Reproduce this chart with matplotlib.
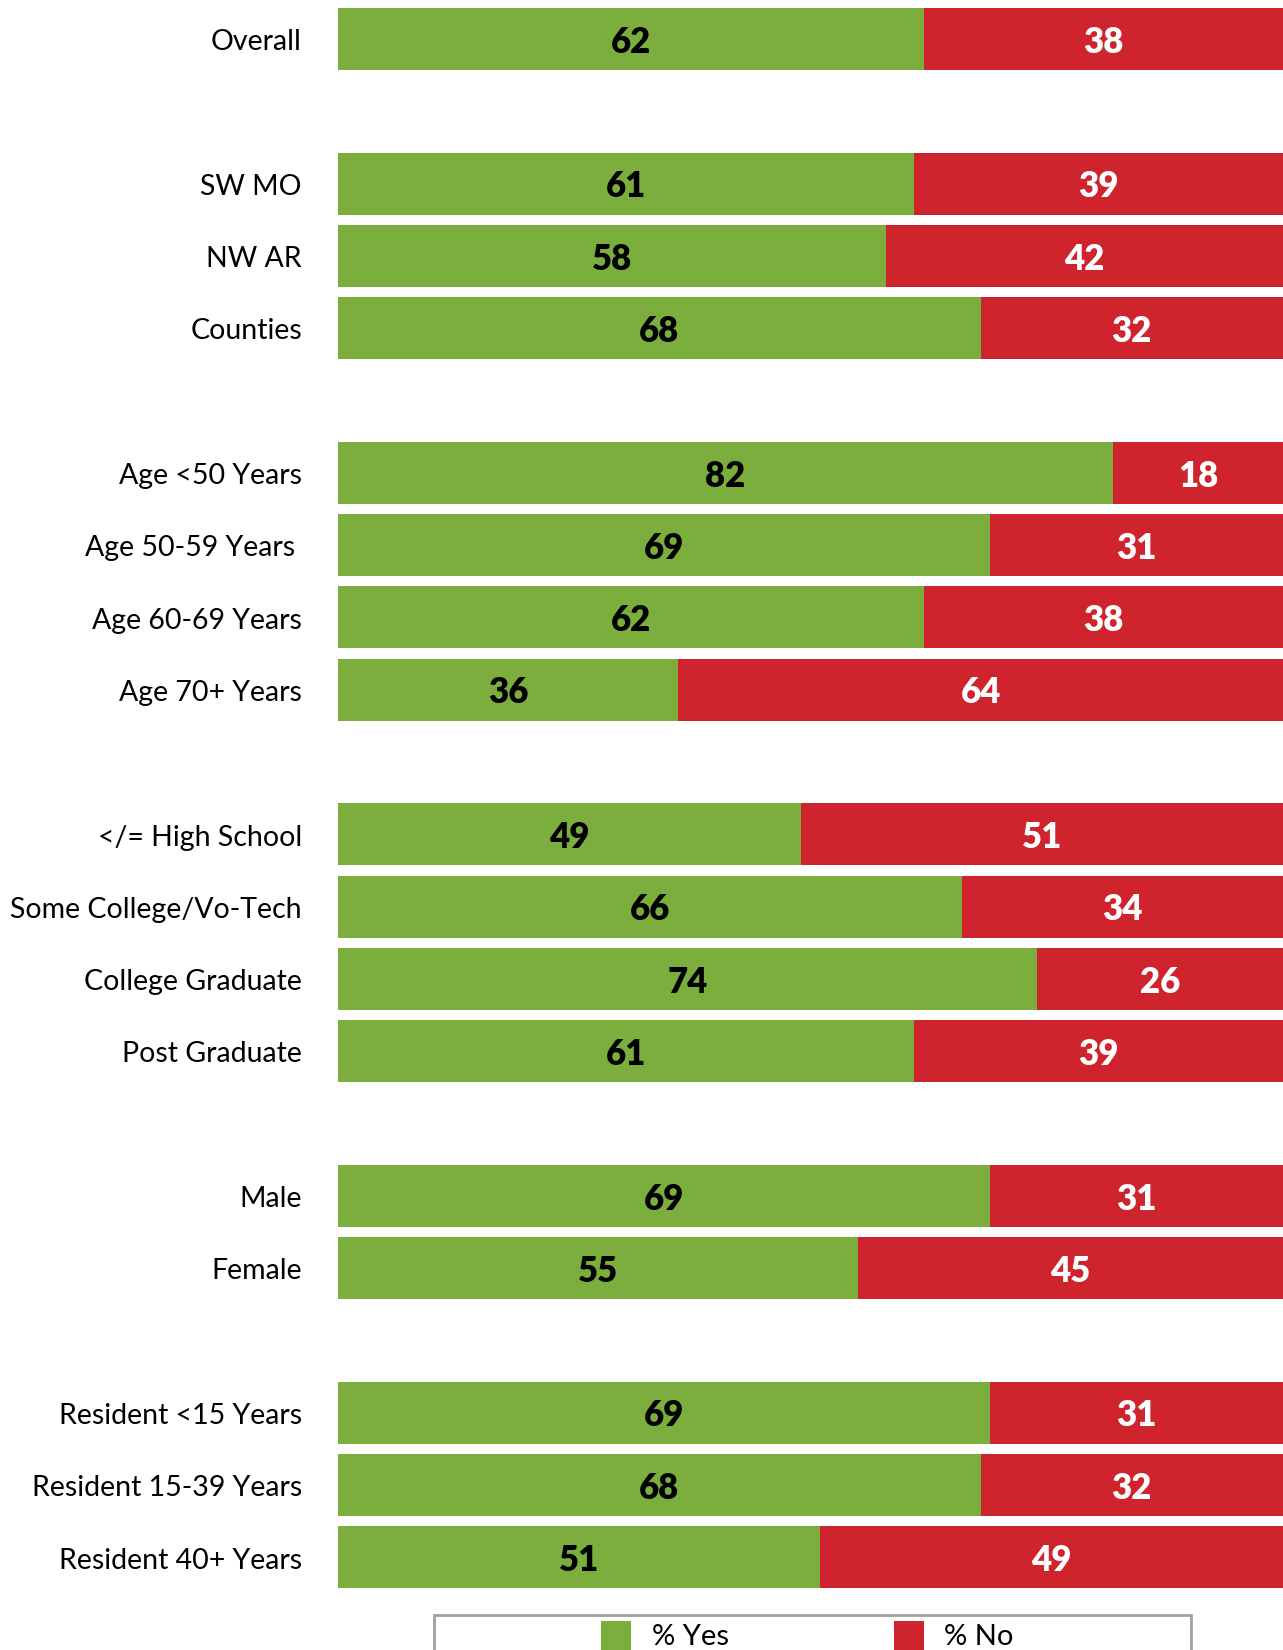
import matplotlib.pyplot as plt
from matplotlib.patches import Rectangle

labels = ["Overall", "SW MO", "NW AR", "Counties",
          "Age <50 Years", "Age 50-59 Years ", "Age 60-69 Years", "Age 70+ Years",
          "</= High School", "Some College/Vo-Tech", "College Graduate", "Post Graduate",
          "Male", "Female",
          "Resident <15 Years", "Resident 15-39 Years", "Resident 40+ Years"]
yes = [62, 61, 58, 68, 82, 69, 62, 36, 49, 66, 74, 61, 69, 55, 69, 68, 51]
no = [38, 39, 42, 32, 18, 31, 38, 64, 51, 34, 26, 39, 31, 45, 31, 32, 49]
# slot index of each row (empty slots separate groups)
slots = [0, 2, 3, 4, 6, 7, 8, 9, 11, 12, 13, 14, 16, 17, 19, 20, 21]

green = "#7BAE3C"
red = "#CF232D"
font = "Lato"

W, H = 1283, 1650
fig = plt.figure(figsize=(W / 100, H / 100), dpi=100)
x0 = 338 / W
ax = fig.add_axes([x0, 0, 1 - x0, 1])

pitch = 72.3
top_slot = -39 / pitch
bot_slot = (H - 39) / pitch
ax.set_ylim(bot_slot, top_slot)
ax.set_xlim(0, 100)
ax.axis("off")

bh = 62 / pitch
ax.barh(slots, yes, height=bh, color=green, linewidth=0)
ax.barh(slots, no, left=yes, height=bh, color=red, linewidth=0)

dy = 0.045
for s, lab, y, n in zip(slots, labels, yes, no):
    ax.text(y / 2, s + dy, str(y), ha="center", va="center", fontsize=25,
            fontweight="heavy", color="black", family=font)
    ax.text(y + n / 2, s + dy, str(n), ha="center", va="center", fontsize=25,
            fontweight="heavy", color="white", family=font)
    ax.text(-36 / 945 * 100, s + dy, lab, ha="right", va="center", fontsize=20.5,
            color="black", family=font, clip_on=False)

# legend box, cut off at the bottom like the original
fig.patches.append(Rectangle((434 / W, -0.01), (1191 - 434) / W, (H - 1615) / H + 0.01,
                             transform=fig.transFigure, facecolor="white",
                             edgecolor="#A0A0A0", linewidth=2))
fig.patches.append(Rectangle((601 / W, -0.01), 30 / W, (H - 1621) / H + 0.01,
                             transform=fig.transFigure, facecolor=green, linewidth=0))
fig.patches.append(Rectangle((894 / W, -0.01), 30 / W, (H - 1621) / H + 0.01,
                             transform=fig.transFigure, facecolor=red, linewidth=0))
fig.text(652 / W, 1 - 1624 / H, "% Yes", ha="left", va="top", fontsize=21, family=font)
fig.text(944 / W, 1 - 1624 / H, "% No", ha="left", va="top", fontsize=21, family=font)

fig.savefig("out.png", dpi=100)
